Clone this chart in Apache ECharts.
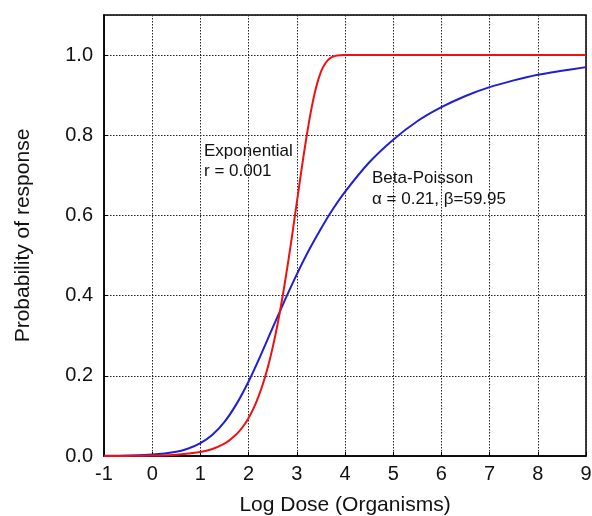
<!DOCTYPE html>
<html><head><meta charset="utf-8">
<script src="https://cdn.jsdelivr.net/npm/echarts@6/dist/echarts.min.js"></script>
<style>html,body{margin:0;padding:0;background:#fff}#c{width:592px;height:516px}</style>
</head><body><div id="c"></div>
<script>
// Exponential (r = 0.001)
const expX = [-1, -0.5, 0, 0.5, 1.0, 1.25, 1.5, 1.6, 1.7, 1.8, 1.9, 2.0, 2.1, 2.2, 2.3, 2.4, 2.5, 2.6, 2.7, 2.8, 2.9, 3.0, 3.1, 3.2, 3.3, 3.4, 3.5, 3.6, 3.7, 3.8, 3.9, 4.0, 5, 6, 7, 8, 9];
const expY = [0.0001, 0.0003, 0.001, 0.0032, 0.010, 0.0176, 0.031, 0.039, 0.049, 0.061, 0.076, 0.095, 0.118, 0.147, 0.181, 0.222, 0.271, 0.328, 0.394, 0.468, 0.548, 0.632, 0.716, 0.795, 0.864, 0.919, 0.958, 0.981, 0.993, 0.998, 0.9996, 1.0, 1.0, 1.0, 1.0, 1.0, 1.0];
// Beta-Poisson (alpha = 0.21, beta = 59.95)
const bpX = [-1, -0.5, 0, 0.5, 0.75, 1.0, 1.25, 1.5, 1.75, 2.0, 2.25, 2.5, 2.75, 3.0, 3.25, 3.5, 3.75, 4.0, 4.5, 5.0, 5.5, 6.0, 6.5, 7.0, 7.5, 8.0, 8.5, 9.0];
const bpY = [0.0004, 0.0012, 0.0035, 0.0107, 0.0187, 0.032, 0.053, 0.085, 0.130, 0.186, 0.251, 0.320, 0.388, 0.453, 0.513, 0.567, 0.616, 0.659, 0.732, 0.789, 0.835, 0.870, 0.898, 0.920, 0.937, 0.951, 0.961, 0.970];
const xTicks = [-1, 0, 1, 2, 3, 4, 5, 6, 7, 8, 9];
const yTicks = [0.0, 0.2, 0.4, 0.6, 0.8, 1.0];

const font = '"Liberation Sans", Arial, Helvetica, sans-serif';
const chart = echarts.init(document.getElementById('c'), null, {renderer: 'canvas'});
chart.setOption({
  backgroundColor: '#fff',
  animation: false,
  grid: {left: 104, right: 6, top: 15, bottom: 60, show: true, borderColor: '#000', borderWidth: 1.5, backgroundColor: 'transparent',
         containLabel: false, outerBoundsMode: 'none'},
  xAxis: {
    type: 'value', min: -1, max: 9, interval: 1,
    name: 'Log Dose (Organisms)', nameLocation: 'middle', nameGap: 39,
    nameTextStyle: {fontFamily: font, fontSize: 21, color: '#111'},
    axisLine: {show: true, onZero: false, lineStyle: {color: '#000', width: 1.5}},
    axisTick: {show: true, inside: true, length: 4, lineStyle: {color: '#000'}},
    axisLabel: {fontFamily: font, fontSize: 20, color: '#111', margin: 8,
      formatter: v => xTicks.includes(v) ? String(v) : ''},
    splitLine: {show: true, lineStyle: {color: '#222', type: [1.5, 1.5], width: 1}}
  },
  yAxis: {
    type: 'value', min: 0, max: 1.1, interval: 0.2,
    name: 'Probability of response', nameLocation: 'middle', nameGap: 70,
    nameTextStyle: {fontFamily: font, fontSize: 21, color: '#111'},
    axisLine: {show: true, onZero: false, lineStyle: {color: '#000', width: 1.5}},
    axisTick: {show: true, inside: true, length: 4, lineStyle: {color: '#000'}},
    axisLabel: {fontFamily: font, fontSize: 20, color: '#111', margin: 11, showMaxLabel: false,
      formatter: v => yTicks.some(t => Math.abs(t - v) < 1e-6) ? v.toFixed(1) : ''},
    splitLine: {show: true, lineStyle: {color: '#222', type: [1.5, 1.5], width: 1}}
  },
  series: [
    {type: 'line', name: 'Beta-Poisson', data: bpX.map((x, i) => [x, bpY[i]]), smooth: 0.3, showSymbol: false,
     lineStyle: {color: '#1f1fd6', width: 2}, z: 3},
    {type: 'line', name: 'Exponential', data: expX.map((x, i) => [x, expY[i]]), smooth: 0.3, showSymbol: false,
     lineStyle: {color: '#ee1111', width: 2}, z: 4}
  ],
  graphic: [
    {type: 'text', left: 204, top: 141, style: {text: 'Exponential\nr = 0.001', font: '17px ' + font, fill: '#111', lineHeight: 20}},
    {type: 'text', left: 372, top: 168, style: {text: 'Beta-Poisson\nα = 0.21, β=59.95', font: '17px ' + font, fill: '#111', lineHeight: 21}}
  ]
});
</script></body></html>
